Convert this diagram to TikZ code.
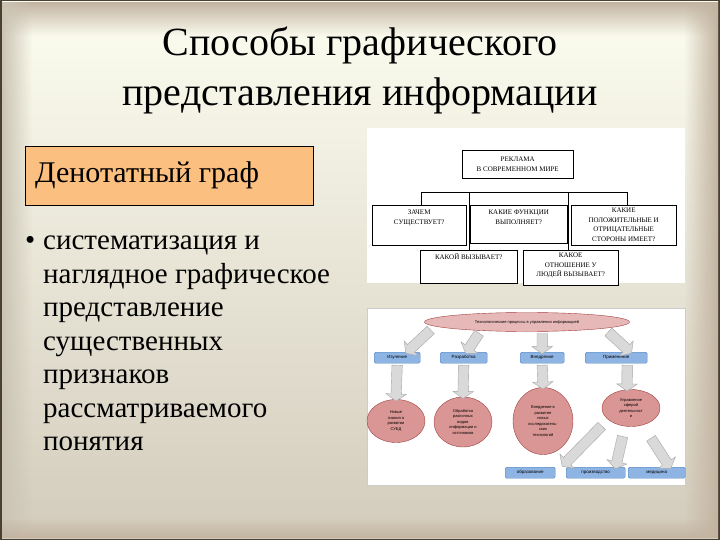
\documentclass[tikz,border=0pt]{standalone}
\usepackage{fontspec}
\setmainfont{Liberation Serif}
\newfontfamily\arialfont{Liberation Sans}
\usetikzlibrary{calc,shapes.geometric,shapes.arrows,fadings}

\definecolor{slideframe}{HTML}{4A3F33}
\definecolor{slidetop}{HTML}{FCFDF0}
\definecolor{slidemid}{HTML}{F1EFE1}
\definecolor{slidebottom}{HTML}{D3CCBC}
\definecolor{slidetaupe}{HTML}{C3B4A1}
\definecolor{slidegray}{HTML}{CBC4B4}
\definecolor{topicorange}{HTML}{FBBF80}
\definecolor{boxblue}{HTML}{8EB4E3}
\definecolor{boxblueline}{HTML}{4F81BD}
\definecolor{ovalpink}{HTML}{D99694}
\definecolor{ovallight}{HTML}{E6B9B8}
\definecolor{ovalline}{HTML}{A0403E}
\definecolor{arrowgray}{HTML}{D9D9D9}
\definecolor{arrowline}{HTML}{A6A6A6}

\tikzfading[name=fade-down, top color=transparent!0, bottom color=transparent!100]
\tikzfading[name=fade-up, top color=transparent!100, bottom color=transparent!0]
\tikzfading[name=fade-right, left color=transparent!0, right color=transparent!100]
\tikzfading[name=fade-left, left color=transparent!100, right color=transparent!0]

\tikzset{
    title-text/.style = {font=\fontsize{40}{50}\selectfont, align=center, inner sep=0pt},
    topic-box/.style = {draw=black, fill=topicorange, anchor=north west, minimum width=288pt, minimum height=59pt, inner sep=0pt},
    bullet-text/.style = {font=\fontsize{29}{33.5}\selectfont, align=left, anchor=north west, inner sep=0pt},
    ad-box/.style = {draw=black, fill=white, anchor=north west, inner sep=0pt},
    ad-text/.style = {font=\fontsize{7}{9.5}\selectfont, align=center, inner sep=0pt},
    ad-line/.style = {draw=black, line width=0.5pt},
    blue-box/.style = {draw=boxblueline, fill=boxblue, rounded corners=1.5pt, anchor=north west, minimum height=11pt, inner sep=0pt, font=\arialfont\fontsize{4.5}{5}\selectfont},
    pink-oval/.style = {ellipse, draw=ovalline, fill=ovalpink, inner sep=0pt, align=center, font=\arialfont\fontsize{4}{5.5}\selectfont},
    fat-arrow/.style = {single arrow, draw=arrowline, fill=arrowgray, inner sep=5pt, single arrow head extend=5pt, single arrow tip angle=110},
}

\newcommand{\bigarrow}[2]{\path let \p1=#1, \p2=#2, \n1={veclen(\x2-\x1,\y2-\y1)} in (\p1) -- (\p2) node[fat-arrow, midway, sloped, allow upside down, minimum height=\n1] {};}

\begin{document}
\begin{tikzpicture}[x=1pt, y=-1pt]
\useasboundingbox (0,0) rectangle (720,540);
\fill[slideframe] (0,0) rectangle (720,540);
\shade[top color=slidetop, middle color=slidemid, bottom color=slidebottom] (2,2) rectangle (718,538);
\fill[slidetaupe, path fading=fade-down] (2,2) rectangle (718,36);
\fill[slidegray, path fading=fade-right] (2,2) rectangle (32,538);
\fill[slidetaupe, path fading=fade-left] (684,2) rectangle (718,538);
\fill[slidetaupe, path fading=fade-up] (2,518) rectangle (718,538);

\node[title-text] (title) at (360,70) {Способы графического\\представления информации};

\node[topic-box] (topic) at (25,146) {};
\node[font=\fontsize{30}{36}\selectfont, anchor=west, inner sep=0pt] (topic-text) at ($(topic.west)+(10,0)$) {Денотатный граф};

\node[font=\fontsize{29}{33}\selectfont, anchor=north west, inner sep=0pt] (bullet) at (25,236) {•};
\node[bullet-text] (features) at (43,236) {систематизация и\\наглядное графическое\\представление\\существенных\\признаков\\рассматриваемого\\понятия};

\fill[white] (367,128) rectangle (685,283);
\node[ad-box, minimum width=111pt, minimum height=28pt, font=\fontsize{7}{9.5}\selectfont, align=center] (ad) at (462,150) {РЕКЛАМА\\В СОВРЕМЕННОМ МИРЕ};
\node[ad-box, minimum width=94pt, minimum height=40pt] (why) at (372,205) {};
\node[ad-box, minimum width=97pt, minimum height=38pt] (func) at (470,205) {};
\node[ad-box, minimum width=105pt, minimum height=40pt] (pros) at (571,205) {};
\node[ad-box, minimum width=97pt, minimum height=33pt] (which) at (420,250) {};
\node[ad-box, minimum width=95pt, minimum height=35pt] (attitude) at (523,250) {};
\node[ad-text, anchor=north] (why-text) at ($(why.north)+(0,5)$) {ЗАЧЕМ\\СУЩЕСТВУЕТ?};
\node[ad-text, anchor=north] (func-text) at ($(func.north)+(0,5)$) {КАКИЕ ФУНКЦИИ\\ВЫПОЛНЯЕТ?};
\node[ad-text, anchor=north] (pros-text) at ($(pros.north)+(0,3)$) {КАКИЕ\\ПОЛОЖИТЕЛЬНЫЕ И\\ОТРИЦАТЕЛЬНЫЕ\\СТОРОНЫ ИМЕЕТ?};
\node[ad-text, anchor=north] (which-text) at ($(which.north)+(0,3)$) {КАКОЙ ВЫЗЫВАЕТ?};
\node[ad-text, anchor=north] (attitude-text) at ($(attitude.north)+(0,3)$) {КАКОЕ\\ОТНОШЕНИЕ У\\ЛЮДЕЙ ВЫЗЫВАЕТ?};
\coordinate (bus-w) at (421,192);
\coordinate (bus-a) at (469,192);
\coordinate (bus-b) at (568,192);
\coordinate (bus-e) at (627,192);
\draw[ad-line] (bus-w) -- (bus-e);
\draw[ad-line] (bus-w) -- (bus-w |- why.north);
\draw[ad-line] (bus-a) -- (bus-a |- which.north);
\draw[ad-line] (bus-b) -- (bus-b |- attitude.north);
\draw[ad-line] (bus-e) -- (bus-e |- pros.north);

\filldraw[fill=white, draw=gray!40] (367,308) rectangle (685,485);
\node[pink-oval, fill=ovallight, minimum width=205pt, minimum height=19pt] (tech) at (527,322) {Технологические процессы в управлении информацией};
\node[blue-box, minimum width=46pt] (study) at (374,352) {Изучение};
\node[blue-box, minimum width=47pt] (devel) at (440,352) {Разработка};
\node[blue-box, minimum width=44pt] (intro) at (520,352) {Внедрение};
\node[blue-box, minimum width=62pt] (apply) at (585,352) {Применение};
\node[pink-oval, minimum width=58pt, minimum height=43pt] (result-a) at (396,421) {Новые\\знания о\\развитии\\СУБД};
\node[pink-oval, minimum width=58pt, minimum height=50pt] (result-b) at (463,422) {Обработка\\различных\\видов\\информации и\\источников};
\node[pink-oval, minimum width=60pt, minimum height=67pt] (result-c) at (543,421) {Внедрение в\\развитие\\новых\\исследователь-\\ских\\технологий};
\node[pink-oval, minimum width=58pt, minimum height=37pt] (result-d) at (631,408) {Управление\\сферой\\деятельност\\и};
\node[blue-box, minimum width=50pt] (edu) at (505,467) {образование};
\node[blue-box, minimum width=59pt] (prod) at (566,467) {производство};
\node[blue-box, minimum width=57pt] (med) at (628,467) {медицина};

\bigarrow{($(tech.south)+(-95,-3)$)}{($(study.north)+(10,0)$)}
\bigarrow{($(tech.south)+(-47,0)$)}{($(devel.north)+(3,0)$)}
\bigarrow{(tech.south -| intro.north)}{(intro.north)}
\bigarrow{($(tech.south)+(80,-1)$)}{($(apply.north)+(14,0)$)}
\bigarrow{(study.south)}{(result-a.north)}
\bigarrow{(devel.south)}{(result-b.north)}
\bigarrow{(intro.south)}{(result-c.north)}
\bigarrow{($(apply.south)+(11,0)$)}{($(result-d.north)+(-4,0)$)}
\bigarrow{($(result-d.south)+(-28,-2)$)}{($(edu.north east)+(8,-2)$)}
\bigarrow{($(result-d.south)+(-8,8)$)}{($(prod.north)+(20,0)$)}
\bigarrow{($(result-d.south)+(19,10)$)}{($(med.north)+(13,0)$)}
\end{tikzpicture}
\end{document}
